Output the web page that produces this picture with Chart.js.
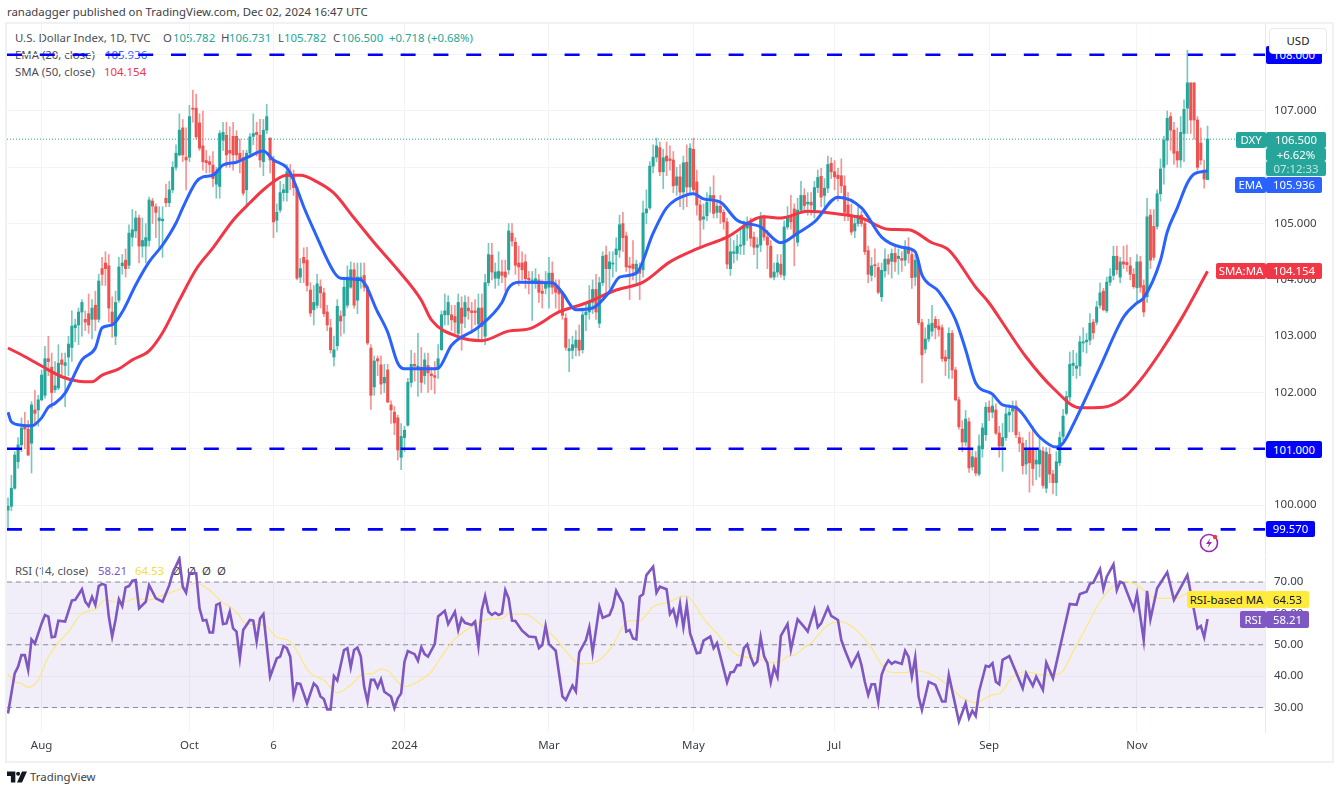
<!DOCTYPE html>
<html>
<head>
<meta charset="utf-8">
<title>DXY</title>
<script src="https://cdn.jsdelivr.net/npm/chart.js@4"></script>
<style>
  html, body { margin: 0; padding: 0; background: #fff; overflow: hidden; }
  body { width: 1337px; height: 791px; position: relative; font: 11.4px "Noto Sans", sans-serif; color: #4a4e59; }
  canvas { position: absolute; z-index: 2; }
  #frame { position: absolute; left: 5px; top: 22px; width: 1325px; height: 737px; border: 2px solid #eff1f7; }
  .t { position: absolute; white-space: nowrap; line-height: 16px; z-index: 1; }
  .tag { position: absolute; z-index: 4; color: #fff; white-space: nowrap; text-align: center; border-radius: 2px; line-height: 16px; }
  #usd { position: absolute; z-index: 5; left: 1269px; top: 28px; width: 56px; height: 24px; line-height: 24px; border: 1px solid #e6e9f1; border-radius: 4px; background: #fff; text-align: center; color: #131722; }
</style>
</head>
<body>
<div id="frame"></div>
<div id="labels"></div>
<canvas id="priceChart" width="1324" height="531" style="left:7px;top:24px"></canvas>
<canvas id="rsiChart" width="1324" height="204" style="left:7px;top:556px"></canvas>
<div id="usd">USD</div>
<svg style="position:absolute;left:1198px;top:532px;z-index:4" width="22" height="22" viewBox="0 0 22 22">
  <circle cx="11" cy="11" r="8.5" fill="none" stroke="#9c27b0" stroke-width="1.6"/>
  <path d="M12.5 6 L8 12 H11 L9.5 16 L14 10 H11 Z" fill="#9c27b0"/>
  <circle cx="17" cy="5" r="2.2" fill="#f23645"/>
</svg>
<svg style="position:absolute;left:7px;top:771px;z-index:4" width="20" height="12" viewBox="0 0 36 20">
  <path d="M0 0 H15 V20 H7 V8 H0 Z M27 0 H36 L27 20 H18 Z" fill="#131722"/><circle cx="20" cy="4" r="3.6" fill="#131722"/>
</svg>
<script>
// candles
const opens = [
  99.91,99.98,100.3,100.77,101.07,101.42,101.35,101.1,101.69,101.69,
  101.87,101.95,102.6,102.45,102.05,102.08,102.58,102.48,102.63,102.8,
  103.15,103.2,103.43,103.3,103.4,103.3,103.55,103.3,104.2,104.3,
  104.25,103.43,103.0,103.64,104.25,104.35,104.26,104.76,104.87,105.1,
  104.6,104.6,104.7,105.4,105.3,105.05,105.05,105.45,105.37,105.6,
  106.0,106.22,106.7,106.18,106.18,107.05,107.05,106.79,106.38,106.12,
  106.1,106.04,105.7,105.66,106.48,106.57,106.3,106.55,106.55,106.25,
  106.17,105.6,106.25,106.55,106.62,106.57,106.1,106.66,106.52,106.13,
  105.06,105.24,105.55,105.55,105.92,105.83,105.64,104.05,104.4,104.35,
  103.82,103.47,103.55,103.88,103.77,103.43,103.15,102.63,102.83,103.36,
  103.36,103.55,103.87,104.18,103.64,104.0,104.08,103.87,102.79,102.1,
  102.6,102.49,102.17,102.4,101.78,101.65,101.55,100.85,101.2,101.42,
  102.18,102.5,102.42,102.45,102.3,102.48,102.33,102.3,102.42,102.76,
  103.38,103.38,103.38,103.35,103.05,103.5,103.35,103.5,103.45,103.45,
  103.22,103.5,103.0,103.95,104.44,104.03,104.03,104.14,104.14,104.18,
  104.83,104.67,104.3,104.3,104.32,104.03,103.97,103.98,104.0,103.8,
  103.85,103.87,104.12,103.9,103.85,103.75,103.32,102.74,102.75,102.8,
  102.93,102.76,103.38,103.43,103.6,103.83,103.23,103.95,104.44,104.2,
  104.28,104.45,104.53,105.0,104.78,104.25,104.28,104.14,104.2,104.18,
  105.19,105.28,106.02,106.18,106.35,105.92,106.2,106.15,106.13,105.68,
  105.83,105.56,106.09,105.65,106.32,105.74,105.33,105.08,105.14,105.42,
  105.5,105.2,105.31,105.2,105.03,104.2,104.47,104.47,104.6,104.62,
  104.92,105.03,104.76,104.58,104.62,105.1,104.76,104.6,104.05,104.14,
  104.28,104.08,104.94,105.12,105.26,104.67,105.24,105.5,105.35,105.38,
  105.2,105.64,105.84,105.5,105.63,106.07,105.92,105.86,105.85,105.67,
  105.33,105.15,104.87,105.0,105.15,105.0,104.52,104.08,104.27,104.22,
  103.7,104.16,104.37,104.33,104.47,104.38,104.38,104.35,104.58,104.45,
  104.05,104.3,103.24,102.77,102.95,103.09,103.3,103.18,103.15,102.63,
  102.6,103.05,102.4,101.87,101.35,101.12,101.48,100.68,100.84,100.55,
  101.0,101.25,101.74,101.65,101.69,101.28,101.05,101.2,101.6,101.67,
  101.76,101.2,101.1,100.73,100.98,100.98,100.73,100.73,100.96,100.3,
  100.9,100.55,100.4,100.75,101.22,101.63,101.92,102.48,102.43,102.47,
  102.88,102.9,102.93,103.25,103.25,103.55,103.8,103.45,103.96,104.08,
  104.42,104.05,104.32,104.31,104.25,104.1,103.86,104.32,103.9,103.7,
  105.15,104.95,104.95,105.53,106.0,106.48,106.9,106.66,106.28,106.13,
  106.6,107.05,107.5,107.5,106.84,106.43,105.95,105.782
];
const closes = [
  99.98,100.3,100.89,101.07,101.37,101.35,100.89,101.78,101.63,101.87,
  102.31,102.6,102.55,102.0,102.12,102.52,102.5,102.53,102.86,103.18,
  103.2,103.43,103.6,103.25,103.2,103.5,103.3,103.98,104.1,104.2,
  103.5,103.23,103.6,104.23,104.3,104.2,104.83,104.89,105.1,104.6,
  104.7,104.75,105.42,105.31,105.2,105.1,105.08,105.37,105.6,106.0,
  106.25,106.66,106.22,106.13,106.9,107.03,106.54,106.34,106.1,106.08,
  106.05,105.8,105.9,106.6,106.62,106.22,106.25,106.22,106.22,106.13,
  105.54,106.25,106.54,106.6,106.58,106.13,106.66,106.9,106.13,105.03,
  105.2,105.55,105.6,105.92,105.83,105.64,104.03,104.2,104.3,103.9,
  103.41,103.6,103.93,103.77,103.4,103.2,102.76,102.76,103.53,103.27,
  103.87,104.05,104.18,103.55,104.05,104.05,103.87,102.88,101.95,102.56,
  102.56,102.15,102.27,101.83,101.69,101.46,100.98,101.22,101.33,102.18,
  102.5,102.47,102.47,102.18,102.58,102.35,102.3,102.27,102.6,103.38,
  103.45,103.6,103.29,103.25,103.6,103.23,103.6,103.45,103.42,103.42,
  103.5,103.17,103.95,104.45,104.14,104.14,104.15,104.08,104.05,104.87,
  104.69,104.26,104.23,104.18,104.02,104.0,104.0,104.02,103.78,103.76,
  103.93,104.12,103.87,103.78,103.75,103.37,102.8,102.78,102.85,102.93,
  102.75,103.38,103.43,103.6,103.83,103.43,103.95,104.42,104.2,104.32,
  104.3,104.55,104.98,104.75,104.23,104.22,104.2,104.28,104.12,105.19,
  105.26,106.02,106.18,106.38,105.92,106.17,106.11,106.12,105.67,105.83,
  105.56,106.08,105.65,106.34,105.6,105.33,105.06,105.12,105.38,105.5,
  105.18,105.31,105.2,105.03,104.28,104.5,104.5,104.6,104.62,104.94,
  105.03,104.74,104.58,104.62,105.1,104.76,104.62,104.05,104.14,104.3,
  104.1,104.94,105.1,105.03,104.8,105.24,105.5,105.32,105.38,105.33,
  105.64,105.82,105.47,105.63,106.05,105.92,105.83,105.8,105.67,105.2,
  105.15,104.85,105.0,105.15,105.0,104.5,104.1,104.25,104.25,103.78,
  104.17,104.37,104.28,104.47,104.32,104.42,104.35,104.58,104.47,104.04,
  104.35,103.24,102.67,102.95,103.2,103.23,103.15,103.12,102.6,102.56,
  103.05,102.4,101.87,101.39,101.12,101.53,100.66,100.86,100.57,101.05,
  101.37,101.74,101.65,101.76,101.28,101.05,101.2,101.62,101.65,101.74,
  101.25,101.1,100.7,100.98,100.75,100.65,100.8,100.98,100.35,100.94,
  100.55,100.4,100.77,101.2,101.58,101.93,102.5,102.52,102.47,102.9,
  102.9,102.93,103.23,103.06,103.52,103.77,103.47,103.96,104.06,104.42,
  104.18,104.32,104.28,104.27,104.1,103.88,104.32,103.87,103.43,105.12,
  104.35,104.4,105.53,105.97,106.48,106.87,106.66,106.25,106.13,106.62,
  107.03,107.5,106.84,106.84,106.0,106.13,105.79,106.5
];
const highs = [
  100.13,100.53,100.95,101.2,101.55,101.65,101.5,101.84,102.04,101.95,
  102.4,102.82,103.0,102.7,102.55,102.85,102.7,102.7,103.0,103.45,
  103.3,103.5,103.65,103.45,103.75,103.65,103.8,104.1,104.4,104.5,
  104.45,103.7,103.8,104.4,104.45,104.55,104.98,105.25,105.22,105.15,
  105.1,105.0,105.47,105.45,105.35,105.3,105.3,105.7,105.75,106.1,
  106.4,106.95,106.85,106.7,107.1,107.37,107.3,106.95,107.0,106.3,
  106.2,106.28,106.0,106.65,106.8,106.8,106.72,106.8,106.65,106.5,
  106.3,106.3,106.6,106.95,106.8,106.85,106.85,107.12,106.52,106.2,
  105.35,105.75,105.7,106.05,106.05,105.95,105.65,104.38,104.57,104.58,
  103.95,103.9,104.1,104.0,103.85,103.55,103.3,103.0,103.65,103.45,
  104.05,104.25,104.32,104.3,104.3,104.3,104.3,103.9,102.85,102.65,
  102.65,102.65,102.5,102.5,101.85,101.75,101.6,101.45,101.4,102.25,
  102.75,102.7,103.05,102.8,102.7,102.7,102.45,102.55,102.85,103.45,
  103.75,103.72,103.55,103.55,103.75,103.7,103.72,103.7,103.6,103.65,
  103.75,103.75,104.1,104.65,104.65,104.3,104.5,104.35,104.35,105.0,
  105.0,104.75,104.6,104.5,104.45,104.15,104.15,104.2,104.1,104.0,
  104.15,104.4,104.32,104.0,104.0,103.8,103.4,102.95,103.0,103.1,
  103.2,103.5,103.6,103.9,104.0,104.1,104.05,104.5,104.6,104.5,
  104.5,104.75,105.15,105.2,104.85,104.4,104.7,104.35,104.3,105.4,
  105.6,106.1,106.4,106.52,106.45,106.32,106.45,106.38,106.28,106.0,
  106.05,106.2,106.4,106.42,106.52,105.95,105.42,105.35,105.55,105.65,
  105.85,105.42,105.5,105.25,105.1,104.75,104.7,104.8,104.9,105.05,
  105.12,105.1,104.85,104.75,105.2,105.15,104.88,104.7,104.3,104.45,
  104.45,105.05,105.3,105.5,105.35,105.45,105.75,105.62,105.55,105.55,
  105.75,105.95,105.98,105.8,106.2,106.17,106.12,105.98,106.15,105.85,
  105.55,105.35,105.15,105.3,105.22,105.05,104.6,104.4,104.55,104.3,
  104.3,104.55,104.45,104.55,104.6,104.55,104.5,104.7,104.75,104.55,
  104.45,104.35,103.3,103.15,103.3,103.55,103.35,103.3,103.2,102.75,
  103.15,103.1,102.45,101.92,101.5,101.68,101.55,101.0,100.95,101.25,
  101.45,101.82,101.85,101.95,101.8,101.4,101.45,101.75,101.78,101.85,
  101.85,101.3,101.2,101.15,101.3,101.4,101.0,101.2,101.03,101.02,
  101.02,100.62,100.95,101.3,101.7,102.02,102.72,102.75,102.7,103.0,
  103.15,103.05,103.4,103.3,103.62,103.95,103.85,104.05,104.2,104.6,
  104.6,104.4,104.6,104.62,104.4,104.2,104.45,104.42,104.0,105.45,
  105.25,105.25,105.6,106.15,106.55,107.0,106.97,106.8,106.7,106.9,
  107.2,108.08,107.5,107.5,106.9,106.7,106.13,106.731
];
const lows = [
  99.6,99.9,100.28,100.65,100.95,101.0,100.88,100.57,101.4,101.4,
  101.85,101.9,102.3,101.72,102.0,102.05,102.3,101.75,102.3,102.55,
  102.9,102.85,103.0,103.1,103.05,102.95,103.1,103.25,103.9,103.9,
  103.25,102.98,102.85,103.6,104.1,104.05,104.2,104.6,104.75,104.3,
  104.4,104.3,104.6,105.0,104.75,104.55,104.4,105.3,105.3,105.55,
  105.95,106.2,106.1,105.6,106.1,106.8,106.5,106.3,105.95,105.9,
  105.9,105.65,105.45,105.45,106.3,106.0,106.0,105.95,106.1,105.9,
  105.5,105.3,106.2,106.4,106.2,106.0,105.85,106.6,105.9,104.75,
  104.85,105.2,105.4,105.4,105.6,105.5,104.0,103.95,103.95,103.8,
  103.35,103.2,103.5,103.5,103.35,103.1,102.7,102.47,102.75,103.0,
  103.05,103.5,103.85,103.5,103.4,103.85,103.8,102.85,101.7,101.95,
  102.3,101.97,102.0,101.82,101.45,101.25,100.8,100.63,100.95,101.4,
  102.1,102.2,101.93,102.0,102.15,102.0,102.05,101.98,102.25,102.75,
  103.2,103.2,103.1,103.05,103.0,102.75,103.15,103.3,103.05,103.2,
  102.95,102.9,102.85,103.9,104.0,103.85,103.9,103.95,103.8,104.1,
  104.6,104.1,103.9,104.0,103.85,103.75,103.28,103.85,103.6,103.5,
  103.75,103.5,103.75,103.5,103.45,103.3,102.75,102.37,102.6,102.65,
  102.65,102.7,103.1,103.3,103.4,103.3,103.15,103.9,103.75,103.85,
  104.05,104.15,104.4,104.5,104.15,103.65,104.0,103.95,103.65,104.05,
  105.0,105.25,105.9,106.1,105.85,105.62,105.85,105.95,105.55,105.5,
  105.3,105.25,105.3,105.55,105.55,105.15,104.57,104.9,105.05,105.2,
  105.1,105.1,105.0,104.9,104.2,104.08,104.3,104.35,104.45,104.45,
  104.7,104.6,104.45,104.2,104.5,104.7,104.2,104.03,104.0,104.05,
  104.05,104.0,104.9,104.9,104.25,104.6,105.2,105.2,105.15,105.15,
  105.1,105.55,105.3,105.3,105.55,105.8,105.6,105.4,105.55,105.05,
  105.05,104.8,104.75,104.95,104.95,104.45,103.95,103.98,104.05,103.75,
  103.62,104.05,104.1,104.03,104.15,104.1,104.15,104.25,104.3,103.85,
  103.9,103.2,102.17,102.7,102.9,103.0,102.95,103.0,102.55,102.3,
  102.25,102.25,101.85,101.35,100.95,101.05,100.58,100.62,100.52,100.52,
  100.85,101.15,101.5,101.55,101.25,100.85,100.6,101.15,101.3,101.3,
  101.2,100.95,100.55,100.55,100.23,100.35,100.45,100.5,100.3,100.22,
  100.4,100.2,100.17,100.7,101.15,101.6,101.85,102.3,102.25,102.3,
  102.72,102.7,102.85,102.95,103.2,103.5,103.45,103.42,103.9,104.0,
  104.1,103.95,104.2,104.15,104.0,103.85,103.6,103.78,103.35,103.6,
  104.2,104.35,104.9,105.4,105.7,106.05,106.3,106.05,106.0,106.0,
  106.1,106.6,106.6,106.5,105.95,106.05,105.63,105.782
];

// moving averages, read at the bends of the lines
const emaBars = [0,1,4,7,10,12,14,17,19,22,26,28,31,34,38,42,46,50,52,56,58,61,64,68,71,76,79,83,85,88,91,97,99,105,110,113,116,118,126,128,132,140,147,149,152,162,165,169,174,179,182,187,192,196,202,204,207,212,217,224,230,235,240,247,254,260,266,270,272,277,282,285,288,293,296,300,307,312,314,318,325,332,336,338,343,345,348,351,353,357];
const emaValues = [101.65,101.48,101.42,101.41,101.55,101.74,101.81,101.99,102.22,102.58,102.79,103.15,103.2,103.43,103.91,104.32,104.62,105.01,105.28,105.74,105.83,105.86,106.04,106.09,106.17,106.29,106.13,105.99,105.77,105.3,104.89,104.14,104.03,104.0,103.43,103.07,102.52,102.42,102.42,102.43,102.84,103.16,103.6,103.86,103.96,103.95,103.77,103.47,103.5,103.79,104.05,104.12,104.83,105.28,105.51,105.53,105.44,105.38,105.06,104.94,104.66,104.83,105.03,105.47,105.28,104.76,104.58,104.5,104.09,103.79,103.29,102.76,102.17,101.97,101.78,101.73,101.21,101.03,101.1,101.55,102.45,103.34,103.59,103.68,104.35,104.85,105.28,105.72,105.88,105.936];
const smaBars = [0,4,10,16,21,25,28,33,37,42,46,51,56,61,67,72,77,83,87,92,97,103,109,116,123,126,134,141,149,155,164,172,181,189,197,205,214,225,230,238,247,254,262,268,275,280,288,292,297,303,311,319,326,332,337,343,349,357];
const smaValues = [102.79,102.67,102.47,102.28,102.2,102.19,102.31,102.42,102.58,102.74,103.06,103.64,104.19,104.57,105.06,105.37,105.65,105.86,105.86,105.74,105.54,105.1,104.66,104.18,103.64,103.29,102.99,102.92,103.09,103.13,103.43,103.59,103.82,103.96,104.32,104.55,104.76,105.12,105.1,105.22,105.17,105.1,104.9,104.89,104.66,104.53,103.87,103.59,103.15,102.63,102.08,101.73,101.74,101.9,102.22,102.72,103.29,104.154];

// RSI pane
const rsiBars = [0,2,3,4,5,6,7,8,10,11,12,13,14,15,17,19,20,22,23,24,25,26,27,28,29,30,31,32,33,34,35,36,37,38,39,41,42,43,44,46,48,49,51,52,53,54,56,57,58,59,60,61,62,63,64,65,66,67,68,69,70,72,73,74,75,76,78,80,81,82,83,84,85,86,87,89,91,92,93,94,95,96,97,98,100,101,102,103,104,105,106,107,108,109,110,111,112,114,115,116,117,118,119,121,122,123,124,125,127,128,130,131,133,134,135,136,138,139,140,141,142,143,144,145,146,147,148,149,150,151,153,155,157,158,159,160,161,163,165,166,168,169,170,172,173,174,176,177,179,180,181,183,184,185,186,187,188,189,190,192,193,194,196,197,198,199,200,201,202,203,205,206,207,209,210,211,212,214,215,216,217,218,219,220,221,222,223,224,225,226,227,228,229,230,232,233,235,237,238,240,241,242,244,245,247,248,249,251,253,254,255,256,257,258,259,260,261,262,263,264,266,267,268,269,270,271,272,274,276,278,279,280,283,285,286,287,288,289,291,292,293,294,295,296,298,302,303,305,306,308,309,311,314,316,318,319,321,322,323,325,326,327,329,330,331,332,335,336,338,339,340,342,345,347,351,354,355,356,357];
const rsiValues = [28.1,40.9,43,46.7,46.7,42,51.7,50.4,56.8,59.5,59,52.4,52.6,57.7,57.4,64.1,64.3,67.7,63.7,62.3,65.3,62.7,68.7,69.4,69,59,52.6,57.9,64.5,62.3,68.3,68.7,70.4,70.6,61.6,63.7,69,66.9,64.8,63.7,69,72.8,77.5,68.5,66.6,72.8,72.8,61.6,57.7,57.9,53.9,53.9,62.7,63.2,56.6,56.8,60.5,55.2,54.2,45.7,54.7,57.9,57.7,51,58.4,59.8,39.8,45.7,46.2,49.6,48.9,46.2,33.7,37.7,37.5,31.3,37.7,36.6,33.5,32.7,29.4,29.4,40,38.6,48.3,48.9,42.8,48.3,49.1,46.2,36.6,31.9,38.8,38.8,36.4,39,35,33.5,29.8,32.9,34.5,44.6,48,47,44.9,49.2,47,46.2,50.2,59,60.8,56.6,60.5,54.7,58.4,57,56.3,57.4,49.6,61.1,65.5,60.5,59.5,60.2,59.5,60,67.4,64.8,57.7,57.6,54.5,52.6,52.4,48.9,49.9,56,50.2,48.1,33.5,32.4,37,35.1,47.5,51.5,55.6,47.5,62.1,58.6,59.5,62.1,67.2,63.2,54.2,54.7,52,51.7,65.3,66.1,72.2,74.9,66.6,68.5,67.7,59.8,61.3,57,63,55.6,62.7,53.6,47.3,47.5,51.3,52.6,48.9,50.5,46.4,38,41.2,41.4,43.5,43.5,48.9,50.1,46.2,43.5,44.6,52.4,46.4,44.1,38,42.8,39.8,52.8,56.6,48.5,58.1,55.6,54.2,61.1,55.6,56.8,61.9,59.2,57.9,51.5,48.5,43.2,47.3,43.5,38.2,34,37.4,37.4,31.7,40.4,43.2,45,43.9,44.6,43.9,48.1,46.2,39.8,46,33.5,29.2,38.2,37.2,31.9,31.9,40.4,25.5,31.3,26.6,29,27.3,35.1,43.3,43,44.1,38.2,37.4,45.2,46.4,36.1,40.9,36.9,39.8,35.6,44.3,39.3,53.6,63,62.7,66.2,66.9,69.4,69.8,74.1,67.7,71.7,75.6,67.4,70.1,69.6,61.3,66.2,51.5,67.2,58.1,68,73.1,64.3,72.2,55.2,56,52.4,58.21];
const rsiMaBars = [0,2,4,6,9,12,15,18,22,26,29,32,35,38,42,46,49,52,56,60,63,68,71,76,80,84,90,94,98,102,106,108,111,113,118,121,126,129,132,135,140,143,147,149,154,159,163,167,170,174,177,180,183,185,188,192,197,201,203,207,211,217,223,227,230,232,234,237,239,244,248,253,257,262,267,270,274,279,284,288,293,295,299,303,308,313,317,321,325,329,333,336,342,348,351,357];
const rsiMaValues = [40.7,38.2,37.7,36.4,38.8,46.2,50.7,54.2,60,61.3,64.3,63.7,63.7,64.8,64.3,65.8,66.9,68,69.6,67.4,64.3,60.5,56.6,56.3,52.4,51,40.9,38.8,34.7,37.2,40.7,40.7,42.2,41.7,36.6,37.7,41.4,46.2,50.7,53.6,57,58.2,58.4,59.8,59.7,56,52,46.7,43.9,44.1,46,49.9,55.8,57.7,57.7,62.1,63.7,65.6,64.8,58.4,53.6,46.7,45.7,44.4,44.6,46.4,46.7,49.2,50.5,56.3,57.4,54.2,48.9,41.4,41.1,41.8,40.9,37.7,33.1,31.5,34,34.3,39.8,41.4,40.4,40.7,47.8,55.8,63.7,68.7,70.1,69,64.8,64.8,66.4,64.53];

// axes
const priceTicks = [100, 101, 102, 103, 104, 105, 106, 107, 108];
const rsiTicks = [30, 40, 50, 60, 70];
const rsiLevels = [70, 50, 30];
const supportLevels = [108, 101, 99.57];
const lastClose = 106.5;
const timeBars = [10, 54, 79, 118, 161, 204, 246, 292, 336];
const timeLabels = ['Aug', 'Oct', '6', '2024', 'Mar', 'May', 'Jul', 'Sep', 'Nov'];

const GREEN = '#26a69a', RED = '#ef5350', BLUE = '#2962ff', SMA_RED = '#f23645', PURPLE = '#7e57c2', YELLOW = '#fbe880', LEVEL = '#0000ff';
const GREEN_WICK = 'rgba(38, 166, 154, 0.62)', RED_WICK = 'rgba(239, 83, 80, 0.62)';
const GRID = '#f2f4f9', TICK = '#3c4048', FONT = '"Noto Sans", sans-serif';
const X_MIN = -0.3, X_MAX = 374.1;

const pairs = (xs, ys) => xs.map((x, i) => ({ x, y: ys[i] }));
const candleColors = closes.map((c, i) => c >= opens[i] ? GREEN : RED);
const wickColors = closes.map((c, i) => c >= opens[i] ? GREEN_WICK : RED_WICK);
const hLine = v => [{ x: X_MIN, y: v }, { x: X_MAX, y: v }];
const line = (data, color, width, extra) => Object.assign({ type: 'line', data, borderColor: color, borderWidth: width, pointRadius: 0, fill: false }, extra);

function xScale(showLabels) {
  return {
    type: 'linear', min: X_MIN, max: X_MAX, offset: false,
    afterBuildTicks: s => { s.ticks = timeBars.map(v => ({ value: v })); },
    afterFit: s => { s.height = showLabels ? 28 : 0; s.paddingLeft = 0; s.paddingRight = 0; },
    grid: { color: GRID, offset: false, drawTicks: false },
    border: { display: false },
    ticks: {
      display: showLabels, maxRotation: 0, autoSkip: false, padding: 7,
      color: TICK, font: { family: FONT, size: 11.5 },
      callback: v => timeLabels[timeBars.indexOf(v)]
    }
  };
}
function yScale(min, max, ticks, digits) {
  return {
    position: 'right', min, max,
    afterBuildTicks: s => { s.ticks = ticks.map(v => ({ value: v })); },
    afterFit: s => { s.width = 66; s.paddingTop = 0; s.paddingBottom = 0; },
    grid: { color: GRID, drawTicks: false },
    border: { color: '#e6e9f1' },
    ticks: {
      padding: 9, color: TICK, font: { family: FONT, size: 11.5 },
      callback: v => v.toFixed(digits)
    }
  };
}
const baseOptions = { responsive: false, animation: false, events: [], layout: { padding: 0 }, plugins: { legend: { display: false }, tooltip: { enabled: false } } };
const barIndex = closes.map((_, i) => i);

new Chart(document.getElementById('priceChart'), {
  type: 'line',
  data: {
    datasets: [
      { type: 'bar', grouped: false, order: 4, barThickness: 1, data: pairs(barIndex, highs.map((h, i) => [lows[i], h])), backgroundColor: wickColors },
      { type: 'bar', grouped: false, order: 3, barThickness: 2.4, data: pairs(barIndex, closes.map((c, i) => [opens[i], c])), backgroundColor: candleColors },
      line(hLine(lastClose), GREEN, 1, { order: 5, borderDash: [1, 2] }),
      line(pairs(smaBars, smaValues), SMA_RED, 3, { order: 2, cubicInterpolationMode: 'monotone' }),
      line(pairs(emaBars, emaValues), BLUE, 3, { order: 1, cubicInterpolationMode: 'monotone' }),
      ...supportLevels.map(v => line(hLine(v), LEVEL, 2.6, { order: 0, borderDash: [15, 17.8] }))
    ]
  },
  options: Object.assign({}, baseOptions, {
    scales: { x: xScale(false), y: yScale(99.114, 108.545, priceTicks, 3) }
  })
});

// shaded 30-70 band behind the RSI lines
const rsiBand = {
  id: 'rsiBand',
  beforeDatasetsDraw(chart) {
    const { ctx, chartArea: a, scales: { y } } = chart;
    ctx.save();
    ctx.fillStyle = 'rgba(126, 87, 194, 0.1)';
    ctx.fillRect(a.left, y.getPixelForValue(rsiLevels[0]), a.right - a.left, y.getPixelForValue(rsiLevels[2]) - y.getPixelForValue(rsiLevels[0]));
    ctx.restore();
  }
};

new Chart(document.getElementById('rsiChart'), {
  type: 'line',
  data: {
    datasets: [
      ...rsiLevels.map(v => line(hLine(v), '#8a8d96', 1, { order: 3, borderDash: [5, 4] })),
      line(pairs(rsiMaBars, rsiMaValues), YELLOW, 1.2, { order: 2, cubicInterpolationMode: 'monotone' }),
      line(pairs(rsiBars, rsiValues), PURPLE, 2.6, { order: 1 })
    ]
  },
  options: Object.assign({}, baseOptions, {
    scales: { x: xScale(true), y: yScale(22.19, 78.29, rsiTicks, 2) }
  }),
  plugins: [rsiBand]
});

// text labels around the plot
const labels = document.getElementById('labels');
function text(x, y, str, color) {
  const el = document.createElement('div');
  el.className = 't';
  el.style.left = x + 'px';
  el.style.top = (y - 8) + 'px';
  el.style.color = color || '#4a4e59';
  el.textContent = str;
  labels.appendChild(el);
}
function tag(x0, x1, y0, y1, str, bg, color) {
  const el = document.createElement('div');
  el.className = 'tag';
  el.style.cssText = `left:${x0}px;top:${y0}px;width:${x1 - x0}px;height:${y1 - y0}px;line-height:${y1 - y0}px;background:${bg};color:${color || '#fff'};`;
  el.textContent = str;
  labels.appendChild(el);
}
text(7, 12, 'ranadagger published on TradingView.com, Dec 02, 2024 16:47 UTC', '#3c4048');
text(15, 38, 'U.S. Dollar Index, 1D, TVC');
[[163, 'O', 173, '105.782'], [221, 'H', 229, '106.731'], [278, 'L', 284, '105.782'], [333, 'C', 341, '106.500']].forEach(([x, k, vx, v]) => {
  text(x, 38, k);
  text(vx, 38, v, GREEN);
});
text(389, 38, '+0.718 (+0.68%)', GREEN);
text(15, 55, 'EMA (20, close)');
text(105, 55, '105.936', BLUE);
text(15, 72, 'SMA (50, close)');
text(104, 72, '104.154', SMA_RED);
text(15, 571, 'RSI (14, close)');
text(98, 571, '58.21', PURPLE);
text(135, 571, '64.53', '#f5dc3c');
[172, 187, 202, 217].forEach(x => text(x, 571, 'Ø', '#3c4048'));
text(30, 777, 'TradingView', '#3c4048');

tag(1266, 1322, 46, 64, '108.000', LEVEL);
tag(1266, 1322, 441, 458, '101.000', LEVEL);
tag(1266, 1315, 521, 537, '99.570', LEVEL);
tag(1236, 1266, 132, 148, 'DXY', GREEN);
tag(1266, 1326, 132, 148, '106.500', GREEN);
tag(1266, 1326, 148, 161, '+6.62%', GREEN);
tag(1266, 1326, 161, 176, '07:12:33', GREEN, '#bfe6e1');
tag(1235, 1266, 177, 193, 'EMA', BLUE);
tag(1266, 1322, 177, 193, '105.936', BLUE);
tag(1216, 1266, 263, 279, 'SMA:MA', SMA_RED);
tag(1266, 1322, 263, 279, '104.154', SMA_RED);
tag(1187, 1266, 591, 608, 'RSI-based MA', '#ffeb3b', '#131722');
tag(1266, 1309, 591, 608, '64.53', '#ffeb3b', '#131722');
tag(1240, 1266, 611, 628, 'RSI', PURPLE);
tag(1266, 1309, 611, 628, '58.21', PURPLE);
</script>
</body>
</html>
